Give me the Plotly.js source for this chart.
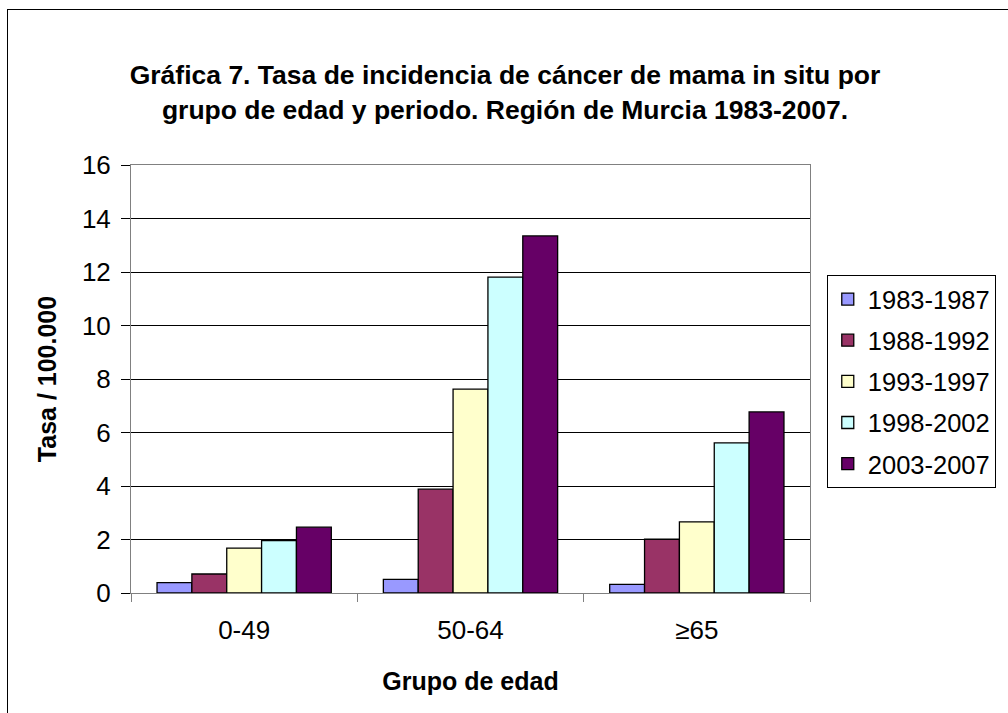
<!DOCTYPE html>
<html><head><meta charset="utf-8">
<script src="https://cdn.plot.ly/plotly-3.0.1.min.js"></script>
<style>
html,body{margin:0;padding:0;background:#fff;}
#wrap{position:absolute;left:0;top:0;width:1008px;height:713px;overflow:hidden;}
#frame{position:absolute;left:7px;top:9px;width:1010px;height:720px;border-left:1px solid #000;border-top:1px solid #000;pointer-events:none;}
#chart{position:absolute;left:0;top:0;width:1008px;height:713px;}
</style></head>
<body>
<div id="wrap"><div id="chart"></div><div id="frame"></div></div>
<script>
const categories = ["0-49", "50-64", "≥65"];
const periods = ["1983-1987", "1988-1992", "1993-1997", "1998-2002", "2003-2007"];
const s1983 = [0.39, 0.51, 0.32];
const s1988 = [0.71, 3.88, 2.01];
const s1993 = [1.68, 7.62, 2.66];
const s1998 = [1.96, 11.81, 5.61];
const s2003 = [2.46, 13.35, 6.77];
const seriesValues = [s1983, s1988, s1993, s1998, s2003];
const colors = ["#9999FF", "#993366", "#FFFFCC", "#CCFFFF", "#660066"];
const yTicks = [0, 2, 4, 6, 8, 10, 12, 14, 16];

const FONT = "Arial, 'Liberation Sans', sans-serif";
const traces = periods.map((p, i) => ({
  type: "bar",
  name: p,
  x: categories,
  y: seriesValues[i],
  legendgroup: "g" + i,
  marker: {color: colors[i], line: {color: "#000", width: 1.3}},
  hoverinfo: "x+y+name"
}));

const layout = {
  width: 1008, height: 713,
  margin: {l: 131, r: 188, t: 165, b: 120},
  paper_bgcolor: "#fff", plot_bgcolor: "#fff",
  font: {family: FONT, color: "#000"},
  title: {
    text: "Gráfica 7. Tasa de incidencia de cáncer de mama in situ por<br>grupo de edad y periodo. Región de Murcia 1983-2007.",
    font: {family: FONT, size: 26.5, color: "#000", weight: "bold"},
    x: 0.501, xref: "container", xanchor: "center",
    y: 0.882, yref: "container", yanchor: "middle"
  },
  barmode: "group",
  bargap: 0.23,
  bargroupgap: 0,
  xaxis: {
    type: "category",
    tickson: "boundaries",
    ticks: "outside", ticklen: 8, tickcolor: "#808080",
    ticklabelstandoff: 14,
    showline: true, linecolor: "#808080", linewidth: 1, mirror: true,
    showgrid: false,
    tickfont: {family: FONT, size: 26, color: "#000"},
    title: {text: "Grupo de edad", font: {family: FONT, size: 25, color: "#000", weight: "bold"}, standoff: 28}
  },
  yaxis: {
    range: [0, 16],
    tickvals: yTicks,
    ticks: "outside", ticklen: 9, tickcolor: "#000",
    ticklabelstandoff: 5,
    showline: true, linecolor: "#808080", linewidth: 1, mirror: true,
    showgrid: true, gridcolor: "#000", gridwidth: 1,
    zeroline: false,
    tickfont: {family: FONT, size: 26, color: "#000"},
    title: {text: "Tasa / 100.000", font: {family: FONT, size: 25, color: "#000", weight: "bold"}, standoff: 18}
  },
  legend: {
    x: 1.0247, xanchor: "left", y: 0.743, yanchor: "top",
    bordercolor: "#000", borderwidth: 1, bgcolor: "#fff",
    font: {family: FONT, size: 25.5, color: "#000"},
    tracegroupgap: 5,
    itemwidth: 30
  },
  showlegend: true
};

Plotly.newPlot("chart", traces, layout, {displayModeBar: false});
</script>
</body></html>
